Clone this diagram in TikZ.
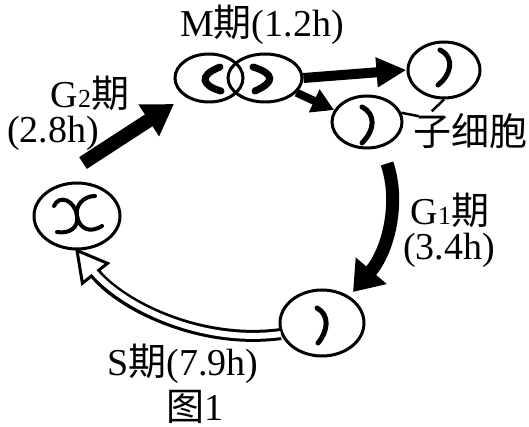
\documentclass[tikz,border=0pt]{standalone}
\usepackage{fontspec}
\setmainfont{Liberation Serif}
\newfontfamily\zhfont{Noto Sans CJK SC}
\usetikzlibrary{arrows.meta,shapes.geometric,calc}
\newcommand{\smalldigit}[1]{{\fontsize{26}{26}\selectfont #1}}

\begin{document}
\begin{tikzpicture}[x=1pt,y=-1pt,
cell/.style={ellipse,draw,line width=3pt,inner sep=0pt},
chrom/.style={line width=#1,line cap=round},
lbl/.style={font=\fontsize{38}{40}\selectfont,inner sep=0pt}]
\useasboundingbox (0,0) rectangle (529,427);
\node[cell,minimum width=86pt,minimum height=66pt] (c0) at (77,216) {};
\node[cell,minimum width=68pt,minimum height=48pt] (ma) at (209,78) {};
\node[cell,minimum width=74pt,minimum height=48pt] (mb) at (265,78) {};
\node[cell,minimum width=72pt,minimum height=56pt] (d1) at (444,70) {};
\node[cell,minimum width=70pt,minimum height=52pt] (d2) at (367,122) {};
\node[cell,minimum width=84pt,minimum height=66pt] (c1) at (322,323) {};
\draw[chrom=4pt,shift={(c0.center)}] (-23,-10) .. controls (-18,-22) and (-2,-16) .. (0,0) .. controls (2,12) and (-8,18) .. (-20,16);
\draw[chrom=4pt,shift={(c0.center)}] (18,-20) .. controls (6,-20) and (-2,-10) .. (0,0) .. controls (2,12) and (12,18) .. (25,10);
\draw[chrom=7pt,shift={(ma.center)}] (11,-11) .. controls (-12,-2) and (-6,8) .. (12,13);
\draw[chrom=7pt,shift={(mb.center)}] (-12,-11) .. controls (10,-4) and (10,4) .. (-10,13);
\draw[chrom=5pt,shift={(d1.center)}] (-4,-20) .. controls (12,-12) and (6,6) .. (-6,15);
\draw[chrom=5pt,shift={(d2.center)}] (-5,-15) .. controls (9,-8) and (8,8) .. (-5,21);
\draw[chrom=5pt,shift={(c1.center)}] (-5,-15) .. controls (8,-8) and (6,8) .. (-4,20);
\coordinate (g2s) at (83,163);
\draw[line width=14pt,-{Triangle[length=30pt,width=36pt]}] (g2s) -- ($(ma.south west)+(-10,8)$);
\draw[line width=10pt,-{Triangle[length=30pt,width=28pt]}] (mb.east) -- (d1.west);
\draw[line width=8pt,-{Triangle[length=22pt,width=24pt]}] (mb.-25) -- (d2.160);
\draw[line width=13pt,-{Triangle[length=28pt,width=39pt]}] ($(d2.south)+(20,14)$) .. controls +(13,38) and +(36,-42) .. ($(c1.45)+(4,-4)$);
\coordinate (sk) at (120,305);
\coordinate (sb) at ($(c0.south)!29pt!(sk)$);
\draw[line width=3pt,fill=white,line join=miter] (c0.south) -- ($(sb)!16pt!90:(c0.south)$) -- ($(sb)!16pt!-90:(c0.south)$) -- cycle;
\draw[line width=12pt,shorten >=28pt] (c1.195) .. controls (200,345) and (sk) .. (c0.south);
\draw[white,line width=6pt,shorten >=24pt] (c1.195) .. controls (200,345) and (sk) .. (c0.south);
\node[lbl,anchor=base] (tm) at (262,37) {M{\zhfont 期}(1.2h)};
\node[lbl,anchor=base] (tg2a) at (90,108) {G\smalldigit{2}{\zhfont 期}};
\node[lbl,anchor=base] (tg2b) at (53,143) {(2.8h)};
\node[lbl,anchor=base] (tg1a) at (450,225) {G\smalldigit{1}{\zhfont 期}};
\node[lbl,anchor=base] (tg1b) at (449,259) {(3.4h)};
\node[lbl,anchor=base] (ts) at (183,375) {S{\zhfont 期}(7.9h)};
\node[lbl,anchor=base] (tfig) at (195,420) {{\zhfont 图}1};
\node[lbl] (tdau) at (470,131) {\zhfont 子细胞};
\draw[line width=2.5pt] ($(tdau.north west)+(6,3)$) -- (d2.15);
\draw[line width=2.5pt] ($(tdau.north west)+(19,-2)$) -- (d1.south);
\end{tikzpicture}
\end{document}
